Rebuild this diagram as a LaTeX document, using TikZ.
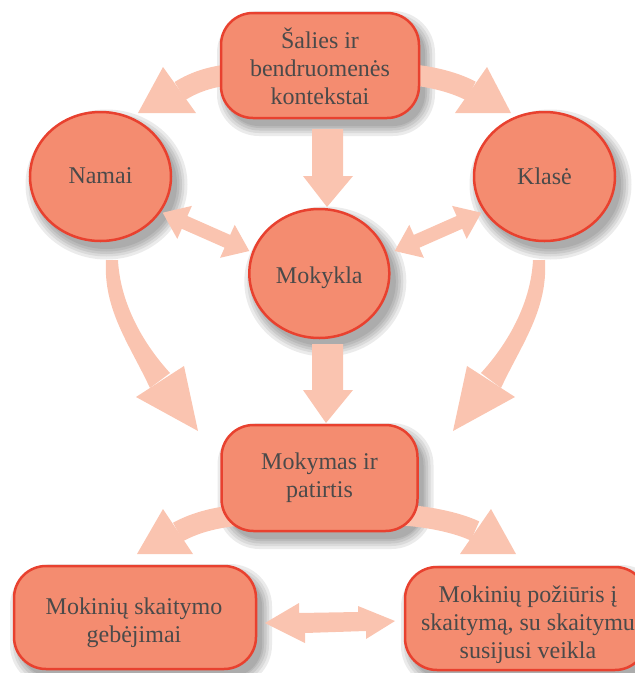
\documentclass[tikz,border=0pt]{standalone}
\usepackage{fontspec}
\setmainfont{Liberation Serif}
\usetikzlibrary{shapes.geometric}
\definecolor{nodefill}{HTML}{F48C70}
\definecolor{nodeline}{HTML}{E8412F}
\definecolor{arrowfill}{HTML}{FAC4B0}
\definecolor{textgray}{HTML}{4A4A4A}
\definecolor{shA}{HTML}{EBEBEB}
\definecolor{shB}{HTML}{DADADA}
\definecolor{shC}{HTML}{C9C9C9}
\definecolor{shD}{HTML}{BABABA}
\definecolor{shE}{HTML}{ACACAC}
\tikzset{
  basenode/.style={fill=nodefill, draw=nodeline, line width=2.5pt, inner sep=0pt},
  oval/.style={basenode, ellipse, minimum width=141pt, minimum height=129pt},
  rbox/.style={basenode, rectangle, rounded corners=32pt, minimum width=#1, minimum height=105pt},
  label text/.style={text=textgray, font=\fontsize{24}{28}\selectfont, align=center, inner sep=0pt},
  blockarrow/.style={fill=arrowfill, draw=none},
  band/.style={draw=arrowfill, line width=21pt, line cap=butt},
  shadowA/.style={fill=shA, draw=none},
  shadowB/.style={fill=shB, draw=none},
  shadowC/.style={fill=shC, draw=none},
  shadowD/.style={fill=shD, draw=none},
  shadowE/.style={fill=shE, draw=none},
}
\begin{document}
\begin{tikzpicture}[x=1pt,y=-1pt]
\useasboundingbox (0,0) rectangle (635,673);

% ---- shadows (layered, light to dark), offset down-right ----
\foreach \cx/\cy in {106.5/184.5, 550.5/184.5, 325.3/281.5}{
  \path[shadowA] (\cx,\cy) ellipse [x radius=81, y radius=75];
  \path[shadowB] (\cx,\cy) ellipse [x radius=78, y radius=72];
  \path[shadowC] (\cx,\cy) ellipse [x radius=75.5, y radius=69.5];
  \path[shadowD] (\cx,\cy) ellipse [x radius=73, y radius=67];
  \path[shadowE] (\cx,\cy) ellipse [x radius=70.5, y radius=64.5];
}
\foreach \xa/\ya/\xb/\yb in {221/13/419/118, 221.5/425/417.5/531, 14/566/256/669, 405/567/647/670}{
  \path[shadowA, rounded corners=42pt] (\xa-4,\ya-2) rectangle (\xb+16,\yb+18);
  \path[shadowB, rounded corners=39pt] (\xa-1,\ya+1) rectangle (\xb+13,\yb+15);
  \path[shadowC, rounded corners=37pt] (\xa+1.5,\ya+3.5) rectangle (\xb+10.5,\yb+12.5);
  \path[shadowD, rounded corners=35pt] (\xa+4,\ya+6) rectangle (\xb+8,\yb+10);
  \path[shadowE, rounded corners=32pt] (\xa+6,\ya+8) rectangle (\xb+6,\yb+8);
}

% ---- arrows (drawn beneath the nodes) ----
% Salies -> Namai
\draw[band] (240,74) .. controls (215,75) and (196,81) .. (180,91);
\fill[blockarrow] (163,67) -- (196,113) -- (138,113) -- cycle;
% Salies -> Klase
\draw[band] (400,74) .. controls (425,75) and (452,81) .. (471,91);
\fill[blockarrow] (487,67) -- (511,113) -- (455,113) -- cycle;
% Salies -> Mokykla
\fill[blockarrow] (312,129) -- (343,129) -- (343,176) -- (353,176) -- (327,207) -- (303,176) -- (312,176) -- cycle;
% Namai <-> Mokykla
\fill[blockarrow] (162.7,212.7) -- (191.9,205.9) -- (187.4,216.0) -- (230.2,234.9) -- (234.7,224.8)
  -- (249.3,251) -- (220.1,257.8) -- (224.6,247.7) -- (181.8,228.8) -- (177.3,238.9) -- cycle;
% Klase <-> Mokykla
\fill[blockarrow] (481.3,212.7) -- (452.1,205.9) -- (456.6,216.0) -- (413.8,234.9) -- (409.3,224.8)
  -- (394.7,251) -- (423.9,257.8) -- (419.4,247.7) -- (462.2,228.8) -- (466.7,238.9) -- cycle;
% Namai -> Mokymas
\fill[blockarrow] (106,260) .. controls (103,310) and (130,345) .. (150,388)
  -- (170,373) .. controls (140,340) and (120,300) .. (118,260) -- cycle;
\fill[blockarrow] (184,366) -- (136,397) -- (198,431) -- cycle;
% Klase -> Mokymas
\fill[blockarrow] (533,260) .. controls (531,300) and (511,340) .. (481,373)
  -- (501,388) .. controls (521,345) and (548,310) .. (545,260) -- cycle;
\fill[blockarrow] (467,366) -- (515,397) -- (453,431) -- cycle;
% Mokykla -> Mokymas
\fill[blockarrow] (312,344) -- (343,344) -- (343,390) -- (353,390) -- (326,423) -- (303,390) -- (312,390) -- cycle;
% Mokymas -> gebejimai
\draw[band] (245,515) .. controls (220,516) and (196,522) .. (178,532);
\fill[blockarrow] (163,509) -- (193,554) -- (137,554) -- cycle;
% Mokymas -> poziuris
\draw[band] (400,515) .. controls (425,516) and (456,522) .. (475,531);
\fill[blockarrow] (491,509) -- (516,554) -- (460,554) -- cycle;
% gebejimai <-> poziuris
\fill[blockarrow] (265,623) -- (299,603) -- (299,613) -- (358,612) -- (358,606) -- (395,621)
  -- (366,639) -- (366,631) -- (305,633) -- (305,643) -- cycle;

% ---- node shapes ----
\node[rbox=198pt] (salies) at (320,65.5) {};
\node[oval] (namai) at (100.5,176.5) {};
\node[oval] (klase) at (544.5,176.5) {};
\node[oval, minimum width=140pt] (mokykla) at (319.3,273.5) {};
\node[rbox=196pt, minimum height=106pt] (mokymas) at (319.5,478) {};
\node[rbox=242pt, minimum height=103pt] (gebejimai) at (135,617.5) {};
\node[rbox=242pt, minimum height=103pt] (poziuris) at (526,618.5) {};

% ---- texts ----
\node[label text] (saliesT) at (320,66) {Šalies ir\\bendruomenės\\kontekstai};
\node[label text] (namaiT) at (100.5,176) {Namai};
\node[label text] (klaseT) at (544.5,176) {Klasė};
\node[label text] (mokyklaT) at (319.3,278) {Mokykla};
\node[label text] (mokymasT) at (319.5,478) {Mokymas ir\\patirtis};
\node[label text] (gebejimaiT) at (134,623) {Mokinių skaitymo\\gebėjimai};
\node[label text] (poziurisT) at (528,625) {Mokinių požiūris į\\skaitymą, su skaitymu\\susijusi veikla};
\end{tikzpicture}
\end{document}
